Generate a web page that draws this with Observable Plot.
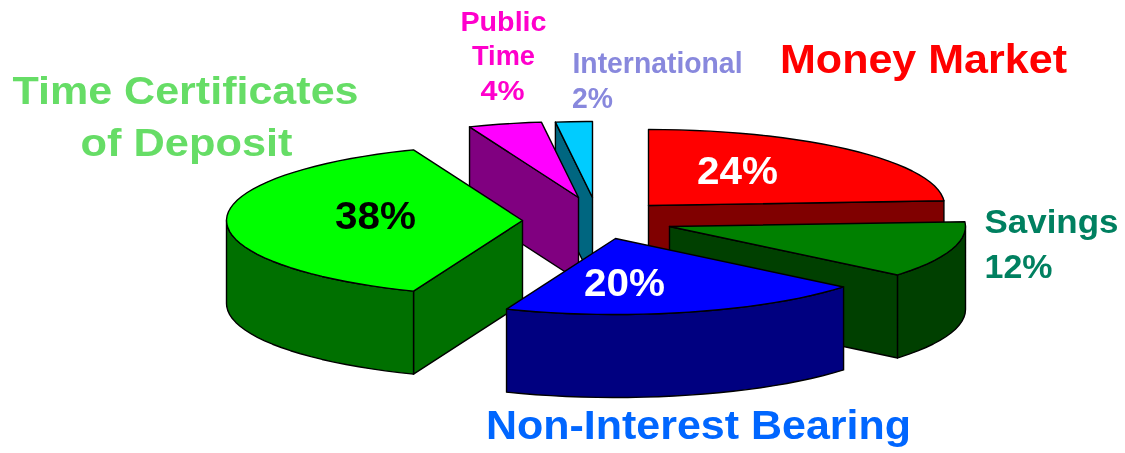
<!DOCTYPE html>
<html><head><meta charset="utf-8">
<script src="https://cdn.jsdelivr.net/npm/d3@7"></script>
<script src="https://cdn.jsdelivr.net/npm/@observablehq/plot@0.6"></script>
<style>html,body{margin:0;padding:0;background:#fff}svg{display:block;filter:blur(0.45px)}</style>
</head><body><div id="chart"></div>
<script>
// Data (clockwise from 12 o'clock)
const categories = ["Money Market", "Savings", "Non-Interest Bearing", "Time Certificates of Deposit", "Public Time", "International"];
const shares = [24, 12, 20, 38, 4, 2];

// Styling and layout of the exploded 3D pie
const topColors  = ["#ff0000", "#008000", "#0000ff", "#00ff00", "#ff00ff", "#00ccff"];
const sideColors = ["#800000", "#004000", "#000080", "#007000", "#800080", "#006680"];
const apexX = [648, 669, 615, 522, 578, 592];
const apexY = [205, 226, 238, 220, 197, 197];
const RX = 296, RY = 76, DEPTH = 83, STEP = 3;
const paintOrder = [0, 5, 4, 3, 1, 2];

const rad = d => d * Math.PI / 180;
let cum = 0;
const slices = shares.map((v, i) => {
  const a0 = cum * 3.6; cum += v; const a1 = cum * 3.6;
  return {i, a0, a1, ax: apexX[i], ay: apexY[i]};
});
const rim = (s, a, dz = 0) => ({x: s.ax + RX * Math.sin(rad(a)), y: s.ay - RY * Math.cos(rad(a)) + dz});
const arc = (s, a, b, dz = 0) => {
  const out = [];
  for (let t = a; t < b; t += STEP) out.push(rim(s, t, dz));
  out.push(rim(s, b, dz));
  return out;
};
const apex = (s, dz = 0) => ({x: s.ax, y: s.ay + dz});

const faces = [];
for (const i of paintOrder) {
  const s = slices[i], side = sideColors[i], top = topColors[i];
  if (Math.sin(rad(s.a0)) < -1e-6) faces.push({fill: side, pts: [apex(s), rim(s, s.a0), rim(s, s.a0, DEPTH), apex(s, DEPTH)]});
  if (Math.sin(rad(s.a1)) > 1e-6) faces.push({fill: side, pts: [apex(s), rim(s, s.a1), rim(s, s.a1, DEPTH), apex(s, DEPTH)]});
  const w0 = Math.max(s.a0, 90), w1 = Math.min(s.a1, 270);
  if (w1 > w0) faces.push({fill: side, pts: [...arc(s, w0, w1), ...arc(s, w0, w1, DEPTH).reverse()]});
  faces.push({fill: top, pts: [apex(s), ...arc(s, s.a0, s.a1)]});
}

const F = "Liberation Sans, Arial, sans-serif";
const labels = [
  {t: "Money Market", x: 923, y: 72, s: 40, c: "#ff0000", w: 287},
  {t: "Time Certificates", x: 185, y: 103, s: 38, c: "#66dd66", w: 346},
  {t: "of Deposit", x: 186, y: 155, s: 38, c: "#66dd66", w: 212},
  {t: "Non-Interest Bearing", x: 698, y: 438, s: 40, c: "#0066ff", w: 425},
  {t: "Public", x: 503, y: 30, s: 27, c: "#ff00cc", w: 86},
  {t: "Time", x: 503, y: 64, s: 27, c: "#ff00cc", w: 63},
  {t: "4%", x: 502, y: 99, s: 27, c: "#ff00cc", w: 44},
  {t: "International", x: 657, y: 72, s: 29, c: "#8888dd", w: 170},
  {t: "2%", x: 592, y: 107, s: 29, c: "#8888dd", w: 41},
  {t: "Savings", x: 1051, y: 232, s: 33, c: "#008060", w: 134},
  {t: "12%", x: 1018, y: 277, s: 33, c: "#008060", w: 68},
  {t: "24%", x: 737, y: 183, s: 38, c: "#ffffff", w: 81},
  {t: "38%", x: 375, y: 228, s: 38, c: "#000000", w: 81},
  {t: "20%", x: 624, y: 295, s: 38, c: "#ffffff", w: 81}
];

const plot = Plot.plot({
  width: 1125, height: 453,
  marginTop: 0, marginRight: 0, marginBottom: 0, marginLeft: 0,
  x: {domain: [0, 1125], range: [0, 1125], axis: null},
  y: {domain: [0, 453], range: [0, 453], axis: null},
  style: {background: "#fff"},
  marks: [
    ...faces.map(f => Plot.line(f.pts, {x: "x", y: "y", fill: f.fill, stroke: "#000", strokeWidth: 1.4, curve: "linear-closed", strokeLinejoin: "round"})),
    ...labels.map(l => Plot.text([l], {x: "x", y: "y", text: "t", fontSize: l.s, fontWeight: "bold", fontFamily: F, fill: l.c, textAnchor: "middle", lineAnchor: "bottom"}))
  ]
});
// Stretch each label to the width it has in the reference
const widthOf = new Map(labels.map(l => [l.t, l.w]));
plot.querySelectorAll("text").forEach(t => {
  const w = widthOf.get(t.textContent);
  if (w) { t.setAttribute("textLength", w); t.setAttribute("lengthAdjust", "spacingAndGlyphs"); }
});
document.getElementById("chart").append(plot);
</script>
</body></html>
